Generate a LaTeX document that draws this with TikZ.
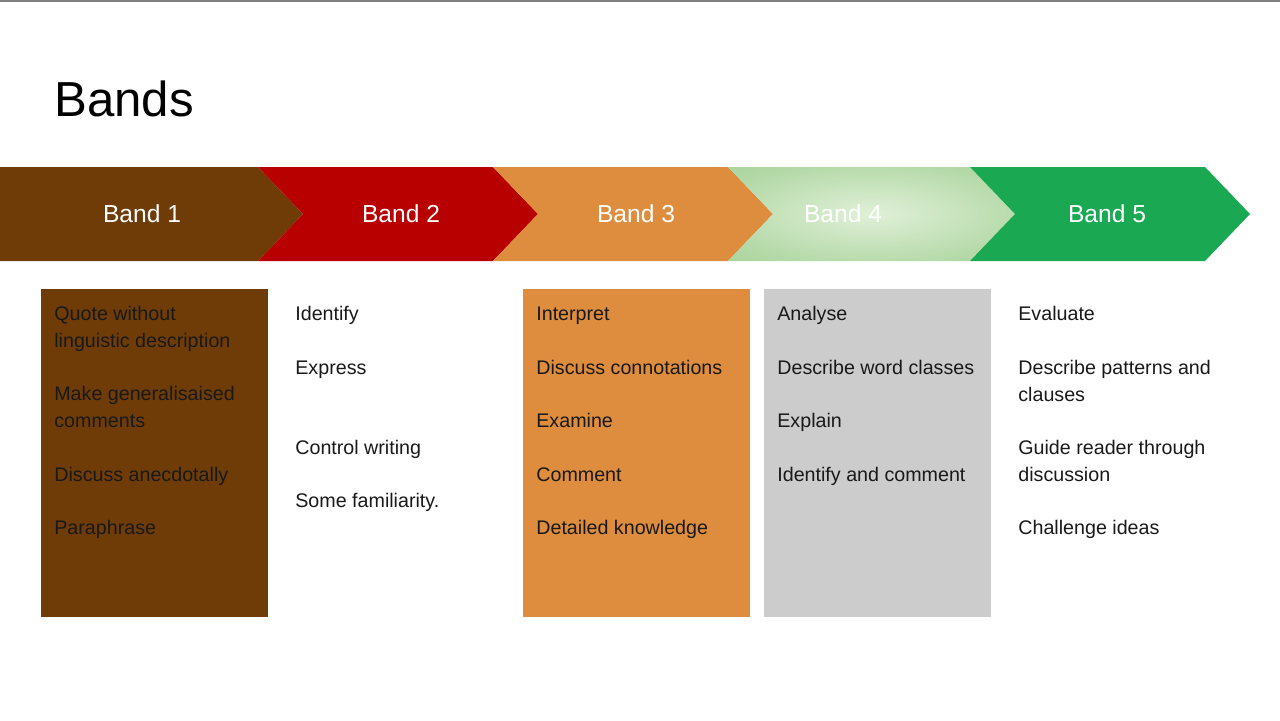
\documentclass[tikz,border=0pt]{standalone}
\usepackage{fontspec}
\setmainfont{Liberation Sans}
\usetikzlibrary{positioning}
\definecolor{bandbrown}{RGB}{111,60,7}
\definecolor{bandred}{RGB}{184,0,0}
\definecolor{bandorange}{RGB}{221,141,61}
\definecolor{bandgreen}{RGB}{26,168,83}
\definecolor{bandpale}{RGB}{155,204,140}
\definecolor{bandlight}{RGB}{224,240,216}
\definecolor{boxgray}{RGB}{204,204,204}
\definecolor{itemtext}{RGB}{25,25,25}
\pgfdeclareradialshading{bandglow}{\pgfpoint{0bp}{0bp}}{color(0bp)=(bandlight); color(28bp)=(bandpale!65!bandlight); color(50bp)=(bandpale)}
\tikzset{x=0.02cm, y=-0.02cm,
band label/.style={text=white, inner sep=0pt, font=\fontsize{14}{16}\selectfont},
item/.style={anchor=base west, inner sep=0pt, align=left, text=itemtext, font=\fontsize{11.2}{15.3}\selectfont},
list box/.style={inner sep=0pt, minimum width=4.54cm, minimum height=6.56cm},
}

\begin{document}
\begin{tikzpicture}
    \useasboundingbox (0,0) rectangle (1280,720);
    \draw[gray, line width=0.04cm] (0,1) -- (1280,1);
    \node[anchor=base west, inner sep=0pt, font=\fontsize{28}{34}\selectfont] (title) at (54,116) {Bands};

    \fill[bandbrown] (0,167) -- (258,167) -- (303,214) -- (258,261) -- (0,261) -- cycle;
    \fill[bandred] (258,167) -- (493,167) -- (538,214) -- (493,261) -- (258,261) -- (303,214) -- cycle;
    \fill[bandorange] (493,167) -- (728,167) -- (773,214) -- (728,261) -- (493,261) -- (538,214) -- cycle;
    \shade[shading=bandglow] (728,167) -- (970,167) -- (1015,214) -- (970,261) -- (728,261) -- (773,214) -- cycle;
    \fill[bandgreen] (970,167) -- (1205,167) -- (1250,214) -- (1205,261) -- (970,261) -- (1015,214) -- cycle;
    \node[band label] (band1) at (142,214) {Band 1};
    \node[band label] (band2) at (401,214) {Band 2};
    \node[band label] (band3) at (636,214) {Band 3};
    \node[band label] (band4) at (843,214) {Band 4};
    \node[band label] (band5) at (1107,214) {Band 5};

    \node[list box, fill=bandbrown] (box1) at (154.5,453) {};
    \node[list box, fill=bandorange] (box3) at (636.5,453) {};
    \node[list box, fill=boxgray] (box4) at (877.5,453) {};

    % two-line items sit on the baseline of their last line
    \node[item] (quote) at (54,347) {Quote without\\linguistic description};
    \node[item] (general) at (54,427) {Make generalisaised\\comments};
    \node[item] (anecdote) at (54,481) {Discuss anecdotally};
    \node[item] (paraphrase) at (54,534) {Paraphrase};

    \node[item] (identify) at (295,320) {Identify};
    \node[item] (express) at (295,374) {Express};
    \node[item] (control) at (295,454) {Control writing};
    \node[item] (familiar) at (295,507) {Some familiarity.};

    \node[item] (interpret) at (536,320) {Interpret};
    \node[item] (connote) at (536,374) {Discuss connotations};
    \node[item] (examine) at (536,427) {Examine};
    \node[item] (comment) at (536,481) {Comment};
    \node[item] (knowledge) at (536,534) {Detailed knowledge};

    \node[item] (analyse) at (777,320) {Analyse};
    \node[item] (classes) at (777,374) {Describe word classes};
    \node[item] (explain) at (777,427) {Explain};
    \node[item] (idcomment) at (777,481) {Identify and comment};

    \node[item] (evaluate) at (1018,320) {Evaluate};
    \node[item] (patterns) at (1018,401) {Describe patterns and\\clauses};
    \node[item] (guide) at (1018,481) {Guide reader through\\discussion};
    \node[item] (challenge) at (1018,534) {Challenge ideas};
\end{tikzpicture}
\end{document}
